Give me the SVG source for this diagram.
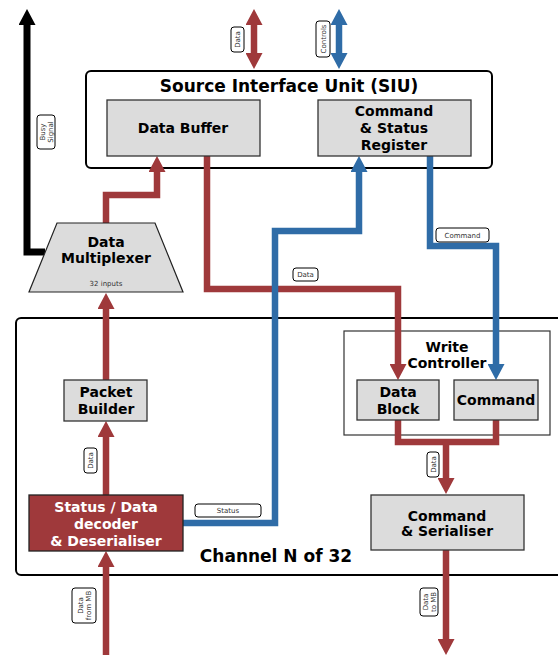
<svg xmlns="http://www.w3.org/2000/svg" width="558" height="655" viewBox="0 0 558 655">
<style>
text{font-family:"DejaVu Sans","Liberation Sans",sans-serif;}
.cont{fill:#fff;stroke:#000;stroke-width:2;}
.box{fill:#dcdcdc;stroke:#333;stroke-width:1.3;}
.t{font-weight:bold;font-size:14px;text-anchor:middle;fill:#000;}
.tw{font-weight:bold;font-size:14px;text-anchor:middle;fill:#fff;}
.big{font-weight:bold;font-size:17px;text-anchor:middle;fill:#000;}
.lb{fill:#fff;stroke:#000;stroke-width:1;}
.lt{font-size:7px;text-anchor:middle;fill:#333;}
.red{fill:none;stroke:#9f393b;stroke-width:6.5;stroke-linejoin:miter;}
.blue{fill:none;stroke:#2f6ca7;stroke-width:6.5;stroke-linejoin:miter;}
.blk{fill:none;stroke:#000;stroke-width:7;stroke-linejoin:miter;}
</style>
<defs>
<marker id="ar" markerUnits="userSpaceOnUse" markerWidth="16" markerHeight="17" viewBox="0 0 16 17" refX="1" refY="8.5" orient="auto-start-reverse"><path d="M0,0 L16,8.5 L0,17 z" fill="#9f393b"/></marker>
<marker id="ab" markerUnits="userSpaceOnUse" markerWidth="16" markerHeight="17" viewBox="0 0 16 17" refX="1" refY="8.5" orient="auto-start-reverse"><path d="M0,0 L16,8.5 L0,17 z" fill="#2f6ca7"/></marker>
<marker id="ak" markerUnits="userSpaceOnUse" markerWidth="16" markerHeight="17" viewBox="0 0 16 17" refX="1" refY="8.5" orient="auto-start-reverse"><path d="M0,0 L16,8.5 L0,17 z" fill="#000"/></marker>
</defs>

<g id="siu">
<rect class="cont" x="86" y="71" width="406" height="97" rx="5"/>
<text class="big" x="289" y="92">Source Interface Unit (SIU)</text>
</g>
<g id="channel">
<rect class="cont" x="16" y="318" width="560" height="257" rx="5"/>
<text class="big" x="276" y="562">Channel N of 32</text>
</g>
<g id="write-controller">
<rect x="344" y="331" width="206" height="104" fill="#fff" stroke="#333" stroke-width="1.2"/>
<text class="t" x="447" y="352">Write</text>
<text class="t" x="447" y="368">Controller</text>
</g>

<g id="connectors">
<polyline class="blk" points="45,252 27,252 27,24" marker-end="url(#ak)"/>
<polyline class="red" points="254,24 254,54" marker-start="url(#ar)" marker-end="url(#ar)"/>
<polyline class="blue" points="339,24 339,54" marker-start="url(#ab)" marker-end="url(#ab)"/>
<polyline class="red" points="106,223 106,195 157,195 157,171" marker-end="url(#ar)"/>
<polyline class="red" points="207,156 207,289 398,289 398,365" marker-end="url(#ar)"/>
<polyline class="blue" points="183,523 275,523 275,231 359,231 359,171" marker-end="url(#ab)"/>
<polyline class="blue" points="430,156 430,246 496,246 496,365" marker-end="url(#ab)"/>
<polyline class="red" points="398,420 398,442 496,442 496,420"/>
<polyline class="red" points="446,442 446,479" marker-end="url(#ar)"/>
<polyline class="red" points="446,550 446,640" marker-end="url(#ar)"/>
<polyline class="red" points="106,380 106,308" marker-end="url(#ar)"/>
<polyline class="red" points="106,495 106,436" marker-end="url(#ar)"/>
<polyline class="red" points="106,655 106,566" marker-end="url(#ar)"/>
</g>

<g id="data-buffer">
<rect class="box" x="107" y="100" width="153" height="56"/>
<text class="t" x="183" y="133">Data Buffer</text>
</g>
<g id="cmd-status-register">
<rect class="box" x="318" y="100" width="153" height="56"/>
<text class="t" x="394" y="116">Command</text>
<text class="t" x="394" y="133">&amp; Status</text>
<text class="t" x="394" y="150">Register</text>
</g>
<g id="data-multiplexer">
<polygon points="57,223 155,223 183,292 29,292" fill="#dcdcdc" stroke="#222" stroke-width="1.2"/>
<text class="t" x="106" y="247">Data</text>
<text class="t" x="106" y="263">Multiplexer</text>
<text x="106" y="286" font-size="7" text-anchor="middle" fill="#333">32 inputs</text>
</g>
<g id="packet-builder">
<rect class="box" x="64" y="380" width="83" height="41"/>
<text class="t" x="106" y="397">Packet</text>
<text class="t" x="106" y="414">Builder</text>
</g>
<g id="decoder">
<rect x="29" y="495" width="154" height="56" fill="#9f393b" stroke="#222" stroke-width="1.3"/>
<text class="tw" x="106" y="512">Status / Data</text>
<text class="tw" x="106" y="529">decoder</text>
<text class="tw" x="106" y="546">&amp; Deserialiser</text>
</g>
<g id="data-block">
<rect class="box" x="357" y="380" width="82" height="40"/>
<text class="t" x="398" y="397">Data</text>
<text class="t" x="398" y="414">Block</text>
</g>
<g id="command">
<rect class="box" x="454" y="380" width="84" height="40"/>
<text class="t" x="496" y="405">Command</text>
</g>
<g id="cmd-serialiser">
<rect class="box" x="371" y="495" width="153" height="55"/>
<text class="t" x="447" y="521">Command</text>
<text class="t" x="447" y="536">&amp; Serialiser</text>
</g>

<g id="labels">
<g transform="translate(237.5,39.5) rotate(-90)"><rect class="lb" x="-12.5" y="-6.5" width="25" height="13" rx="3"/><text class="lt" x="0" y="2.5">Data</text></g>
<g transform="translate(323,39) rotate(-90)"><rect class="lb" x="-18" y="-7" width="36" height="14" rx="3"/><text class="lt" x="0" y="2.5">Controls</text></g>
<g transform="translate(46,132) rotate(-90)"><rect class="lb" x="-17" y="-9" width="34" height="18" rx="3"/><text class="lt" x="0" y="-1.5">Busy</text><text class="lt" x="0" y="6.5">Signal</text></g>
<g transform="translate(90.5,460.5) rotate(-90)"><rect class="lb" x="-12.5" y="-6.5" width="25" height="13" rx="3"/><text class="lt" x="0" y="2.5">Data</text></g>
<g transform="translate(84,605.5) rotate(-90)"><rect class="lb" x="-17.5" y="-12" width="35" height="24" rx="3"/><text class="lt" x="0" y="-1.5">Data</text><text class="lt" x="0" y="6.5">from MB</text></g>
<g transform="translate(433,464.5) rotate(-90)"><rect class="lb" x="-12.5" y="-6" width="25" height="12" rx="3"/><text class="lt" x="0" y="2.5">Data</text></g>
<g transform="translate(429,602) rotate(-90)"><rect class="lb" x="-14" y="-9" width="28" height="18" rx="3"/><text class="lt" x="0" y="-1.5">Data</text><text class="lt" x="0" y="6.5">to MB</text></g>
<rect class="lb" x="293" y="268" width="25" height="13" rx="3"/><text class="lt" x="305.5" y="277">Data</text>
<rect class="lb" x="436" y="228" width="53" height="14" rx="3"/><text class="lt" x="462.5" y="237.5">Command</text>
<rect class="lb" x="195" y="504" width="66" height="13" rx="3"/><text class="lt" x="228" y="513">Status</text>
</g>
</svg>
